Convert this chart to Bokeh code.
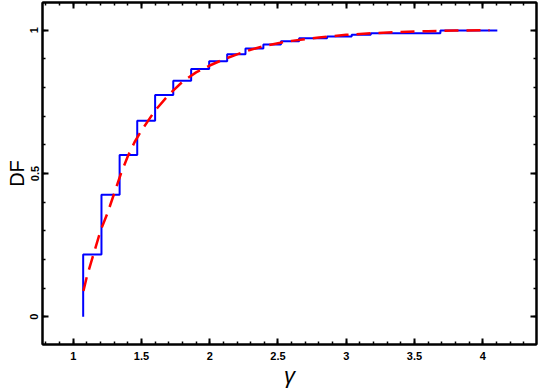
from bokeh.plotting import figure
from bokeh.models import LinearAxis, Range1d, FixedTicker, CustomJSTickFormatter
from bokeh.embed import file_html
from bokeh.resources import INLINE

# Empirical distribution (blue step): step positions and levels
step_x = [1.073, 1.073, 1.207, 1.340, 1.469, 1.600, 1.733, 1.864, 1.996, 2.128,
          2.262, 2.393, 2.522, 2.655, 2.860, 3.040, 3.180, 3.690, 4.107]
step_y = [0.000, 0.217, 0.426, 0.565, 0.684, 0.774, 0.824, 0.865, 0.892, 0.916,
          0.936, 0.950, 0.962, 0.972, 0.978, 0.984, 0.990, 0.999, 0.999]

# Model distribution (red dashed curve)
fit_x = [1.075, 1.10, 1.15, 1.20, 1.25, 1.30, 1.35, 1.40, 1.45, 1.50, 1.60, 1.70,
         1.80, 1.90, 2.00, 2.10, 2.20, 2.30, 2.40, 2.50, 2.60, 2.80, 3.00, 3.20,
         3.40, 3.60, 3.80, 4.05]
fit_y = [0.09, 0.14, 0.22, 0.30, 0.36, 0.43, 0.50, 0.56, 0.61, 0.65, 0.72, 0.775,
         0.82, 0.853, 0.877, 0.898, 0.916, 0.932, 0.945, 0.955, 0.963, 0.975, 0.984, 0.990,
         0.994, 0.997, 0.999, 1.0]

x_major = [1, 1.5, 2, 2.5, 3, 3.5, 4]
y_major = [0, 0.5, 1]
x_minor = [round(0.8 + 0.1 * i, 2) for i in range(37)]
y_minor = [round(-0.1 + 0.1 * i, 2) for i in range(13)]

p = figure(width=538, height=390, output_backend="svg", toolbar_location=None,
           x_range=Range1d(0.775, 4.394), y_range=Range1d(-0.097, 1.097),
           x_axis_location=None, y_axis_location=None,
           min_border_left=42, min_border_right=2, min_border_top=2, min_border_bottom=45)
p.xgrid.visible = False
p.ygrid.visible = False
p.outline_line_color = "black"
p.outline_line_width = 2
p.background_fill_color = "white"
p.border_fill_color = "white"

font = "Liberation Sans"

def style_axis(ax, labels=True):
    ax.axis_line_color = "black"
    ax.axis_line_width = 2
    ax.major_tick_in = 6
    ax.major_tick_out = 0
    ax.minor_tick_in = 3
    ax.minor_tick_out = 0
    ax.major_tick_line_width = 2
    ax.minor_tick_line_width = 1.5
    ax.major_tick_line_color = "black"
    ax.minor_tick_line_color = "black"
    if labels:
        ax.major_label_text_font = font
        ax.major_label_text_font_style = "bold"
        ax.major_label_text_font_size = "11px"
        ax.major_label_text_color = "black"
    else:
        ax.formatter = CustomJSTickFormatter(code="return ''")
        ax.major_label_text_color = None
        ax.major_label_text_font_size = "1px"
        ax.major_label_standoff = 0
        ax.axis_label_standoff = 0

xt = FixedTicker(ticks=x_major, minor_ticks=x_minor)
yt = FixedTicker(ticks=y_major, minor_ticks=y_minor)

xb = LinearAxis(ticker=xt, axis_label="γ")
style_axis(xb)
xb.major_label_standoff = 7
xb.axis_label_standoff = 0
xb.axis_label_text_font = font
xb.axis_label_text_font_style = "italic"
xb.axis_label_text_font_size = "22px"
xb.axis_label_text_color = "black"
p.add_layout(xb, "below")

yl = LinearAxis(ticker=yt, axis_label="DF")
style_axis(yl)
yl.major_label_orientation = "vertical"
yl.major_label_standoff = 4
yl.axis_label_standoff = 0
yl.axis_label_text_font = font
yl.axis_label_text_font_style = "normal"
yl.axis_label_text_font_size = "20px"
yl.axis_label_text_color = "black"
p.add_layout(yl, "left")

xa = LinearAxis(ticker=xt)
style_axis(xa, labels=False)
p.add_layout(xa, "above")

yr = LinearAxis(ticker=yt)
style_axis(yr, labels=False)
p.add_layout(yr, "right")

p.step(step_x, step_y, mode="after", line_color="#0000ff", line_width=2)
p.line(fit_x, fit_y, line_color="#ff0000", line_width=2.5, line_dash="14 8")

open("out.html", "w").write(file_html(p, INLINE))
